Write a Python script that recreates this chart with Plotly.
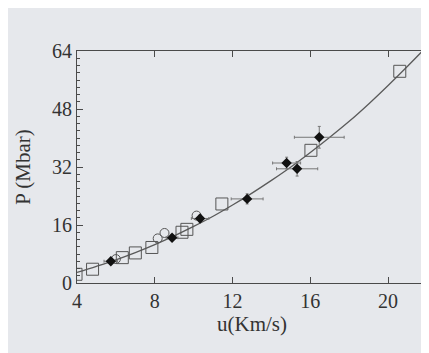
import plotly.graph_objects as go

# fitted curve
curve_u = [4, 5, 6, 7, 8, 9, 10, 11, 12, 13, 14, 15, 16, 17, 18, 19, 20, 21, 22]
curve_p = [2.9, 4.6, 6.4, 8.4, 10.6, 13.0, 15.6, 18.4, 21.5, 24.8, 28.3, 32.0, 36.0, 40.2, 44.6, 49.4, 54.5, 59.8, 65.3]

# open squares
sq_u = [3.95, 4.8, 6.33, 7.0, 7.85, 9.4, 9.65, 11.45, 16.03, 20.6]
sq_p = [2.4, 3.8, 7.0, 8.3, 9.8, 14.0, 14.8, 21.8, 36.6, 58.4]

# open circles
ci_u = [6.0, 8.15, 8.5, 10.15]
ci_p = [6.6, 12.3, 13.8, 18.6]

# filled diamonds with error bars
di_u = [5.74, 8.89, 10.33, 12.75, 14.78, 15.32, 16.46]
di_p = [6.0, 12.5, 17.8, 23.2, 33.1, 31.5, 40.2]
di_eu = [0.35, 0.3, 0.45, 0.82, 0.72, 1.06, 1.28]
di_ep = [0.6, 0.7, 0.9, 1.4, 1.6, 2.0, 3.0]

x_ticks = [4, 8, 12, 16, 20]
y_ticks = [0, 16, 32, 48, 64]

ink = "#4a4a4a"
bg = "#e6e8ec"

fig = go.Figure()
fig.add_trace(go.Scatter(x=curve_u, y=curve_p, mode="lines",
                         line=dict(color="#5a5a5a", width=1.3, shape="spline"),
                         hoverinfo="skip", cliponaxis=True))
fig.add_trace(go.Scatter(x=sq_u, y=sq_p, mode="markers",
                         marker=dict(symbol="square-open", size=12, color="#555555", line=dict(width=1))))
fig.add_trace(go.Scatter(x=ci_u, y=ci_p, mode="markers",
                         marker=dict(symbol="circle-open", size=9, color="#555555", line=dict(width=1))))
fig.add_trace(go.Scatter(x=di_u, y=di_p, mode="markers",
                         marker=dict(symbol="diamond", size=8, color="#111111"),
                         error_x=dict(type="data", array=di_eu, color="#777777", thickness=1, width=1.5),
                         error_y=dict(type="data", array=di_ep, color="#777777", thickness=1, width=1.5)))

font = dict(family="Liberation Serif, Times New Roman, serif", size=21, color="#333333")
tfont = dict(family="Liberation Serif, Times New Roman, serif", size=20, color="#333333")
fig.update_layout(
    width=429, height=353,
    margin=dict(l=69, r=10, t=43, b=78),
    paper_bgcolor=bg, plot_bgcolor=bg,
    showlegend=False, font=font,
)
fig.update_xaxes(range=[4, 22], tickvals=x_ticks, ticktext=[str(v) for v in x_ticks],
                 showgrid=False, zeroline=False, showline=True, linecolor=ink, linewidth=1.2,
                 mirror="allticks", ticks="inside", ticklen=6, tickcolor=ink, tickwidth=1,
                 title=dict(text="u(Km/s)", standoff=0, font=font), tickfont=tfont)
fig.update_yaxes(range=[0, 64], tickvals=y_ticks, ticktext=[str(v) for v in y_ticks],
                 showgrid=False, zeroline=False, showline=True, linecolor=ink, linewidth=1.2,
                 mirror="allticks", ticks="inside", ticklen=6, tickcolor=ink, tickwidth=1,
                 minor=dict(dtick=2, ticks="inside", ticklen=3, tickcolor=ink, showgrid=False),
                 title=dict(text="P (Mbar)", standoff=15, font=font), tickfont=tfont)
fig.write_html("out.html")
